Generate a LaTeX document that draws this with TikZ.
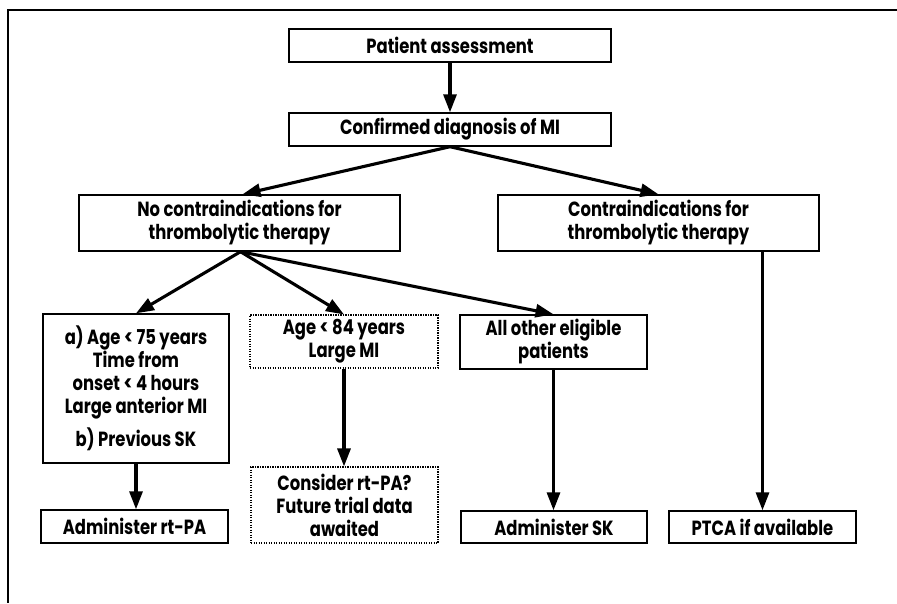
\documentclass[tikz,border=0pt]{standalone}
\usepackage{fontspec}
\setmainfont{Poppins}[FakeStretch=0.8]
\usetikzlibrary{arrows.meta}
\begin{document}
\begin{tikzpicture}[x=1pt,y=-1pt,
  box/.style={draw, line width=1.4pt, align=center, inner sep=0pt,
    font=\bfseries\fontsize{20.5}{23}\selectfont},
  dotbox/.style={box, line width=1.1pt, dash pattern=on 1.2pt off 1.3pt},
  arr/.style={line width=3.1pt, -{Triangle[length=18pt,width=13pt]}},
  frame/.style={line width=1.4pt}]
\useasboundingbox (0,0) rectangle (897,603);
\coordinate (f1) at (897,10);
\coordinate (f0) at (8,10);
\coordinate (f2) at (8,603);
\draw[frame] (f1) -- (f0) -- (f2);

\node[box, minimum width=322pt, minimum height=33pt] (P) at (450,45.5) {Patient assessment};
\node[box, minimum width=322pt, minimum height=33pt] (C) at (450,129.5) {Confirmed diagnosis of MI};
\node[box, minimum width=321pt, minimum height=56pt] (N) at (239.5,223) {No contraindications for\\thrombolytic therapy};
\node[box, minimum width=321pt, minimum height=56pt] (K) at (658.5,223) {Contraindications for\\thrombolytic therapy};
\node[box, minimum width=186pt, minimum height=149pt] (A) at (136,388.5) {a) Age < 75 years\\Time from\\onset < 4 hours\\Large anterior MI\\[8pt]b) Previous SK};
\node[dotbox, minimum width=188pt, minimum height=53pt] (B) at (344,341.5) {Age < 84 years\\Large MI};
\node[box, minimum width=187pt, minimum height=54pt] (O) at (553.5,342) {All other eligible\\patients};
\node[box, minimum width=187pt, minimum height=33pt] (R) at (134.5,526.5) {Administer rt-PA};
\node[dotbox, minimum width=187pt, minimum height=76pt] (S) at (344.5,505) {Consider rt-PA?\\Future trial data\\awaited};
\node[box, minimum width=186pt, minimum height=32pt] (T) at (554,527) {Administer SK};
\node[box, minimum width=187pt, minimum height=32pt] (U) at (762.5,527) {PTCA if available};

\draw[arr] (P.south) -- (C.north);
\draw[arr] (C.south) -- ([xshift=3pt]N.north);
\draw[arr] (C.south) -- (K.north);
\draw[arr] ([xshift=1pt]N.south) -- (A.north);
\draw[arr] ([xshift=1pt]N.south) -- (B.north);
\draw[arr] ([xshift=1pt]N.south) -- (O.north);
\draw[arr] (A.south) -- (A.south |- R.north);
\draw[arr] (B.south) -- (B.south |- S.north);
\draw[arr] (O.south) -- (O.south |- T.north);
\draw[arr] (K.south -| U.north) -- (U.north);
\end{tikzpicture}
\end{document}
